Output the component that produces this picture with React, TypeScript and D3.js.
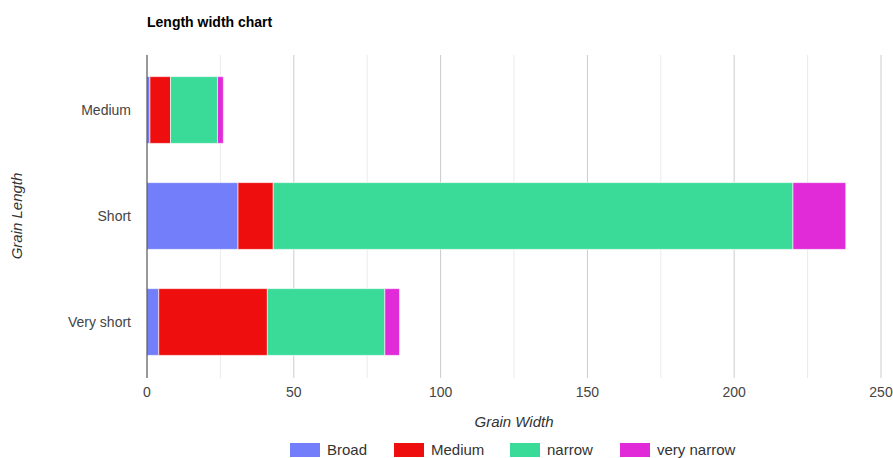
import React from "react";
import * as d3 from "d3";

const categories = ["Medium", "Short", "Very short"];
const seriesNames = ["Broad", "Medium", "narrow", "very narrow"];
const broad = [1, 31, 4];
const medium = [7, 12, 37];
const narrow = [16, 177, 40];
const veryNarrow = [2, 18, 5];
const colors = ["#737ffa", "#ee0e0e", "#3adb99", "#e12bd8"];
const xTicks = [0, 50, 100, 150, 200, 250];
const minorTicks = [25, 75, 125, 175, 225];

const W = 893;
const H = 458;
const left = 147;
const right = 881;
const top = 57;
const bottom = 375;
const font = "'Liberation Sans', Arial, sans-serif";

export default function App() {
  const x = d3.scaleLinear().domain([0, 250]).range([left, right]);
  const y = d3.scaleBand().domain(categories).range([top, bottom]).paddingInner(0.37).paddingOuter(0.185);
  const seriesData = [broad, medium, narrow, veryNarrow];
  const rows = categories.map((c, i) => {
    const o: any = { cat: c };
    seriesNames.forEach((s, j) => (o[s] = seriesData[j][i]));
    return o;
  });
  const stacked = d3.stack().keys(seriesNames)(rows);

  const legendX = [290, 394, 510, 620];

  return (
    <svg width={W} height={H} style={{ position: "absolute", left: 0, top: 0, background: "#fff" }} fontFamily={font}>
      <text x={147} y={27} fontSize={14} fontWeight="bold" fill="#000">Length width chart</text>
      {minorTicks.map((t) => (
        <line key={"m" + t} x1={x(t)} x2={x(t)} y1={top - 2} y2={bottom + 3} stroke="#ebebeb" strokeWidth={1} />
      ))}
      {xTicks.slice(1).map((t) => (
        <line key={"g" + t} x1={x(t)} x2={x(t)} y1={top - 2} y2={bottom + 3} stroke="#cccccc" strokeWidth={1} />
      ))}
      {stacked.map((s, j) => (
        <g key={s.key}>
          {s.map((d, i) => (
            <rect
              key={i}
              x={x(d[0])}
              y={y(categories[i])!}
              width={x(d[1]) - x(d[0])}
              height={y.bandwidth()}
              fill={colors[j]}
              stroke="#ffffff"
              strokeOpacity={0.6}
              strokeWidth={1}
            />
          ))}
        </g>
      ))}
      <line x1={left} x2={left} y1={top - 2} y2={bottom + 3} stroke="#333" strokeWidth={1} />
      {xTicks.map((t) => (
        <text key={"t" + t} x={x(t)} y={397} fontSize={14} fill="#444" textAnchor="middle">{t}</text>
      ))}
      {categories.map((c) => (
        <text key={c} x={131} y={y(c)! + y.bandwidth() / 2 + 5} fontSize={14} fill="#444" textAnchor="end">{c}</text>
      ))}
      <text x={(left + right) / 2} y={427} fontSize={15} fontStyle="italic" fill="#333" textAnchor="middle">Grain Width</text>
      <text transform={`translate(22,216) rotate(-90)`} fontSize={15} fontStyle="italic" fill="#333" textAnchor="middle">Grain Length</text>
      {seriesNames.map((s, j) => (
        <g key={s}>
          <rect x={legendX[j]} y={443} width={30} height={14} fill={colors[j]} />
          <text x={legendX[j] + 37} y={454.5} fontSize={15} fill="#333">{s}</text>
        </g>
      ))}
    </svg>
  );
}
